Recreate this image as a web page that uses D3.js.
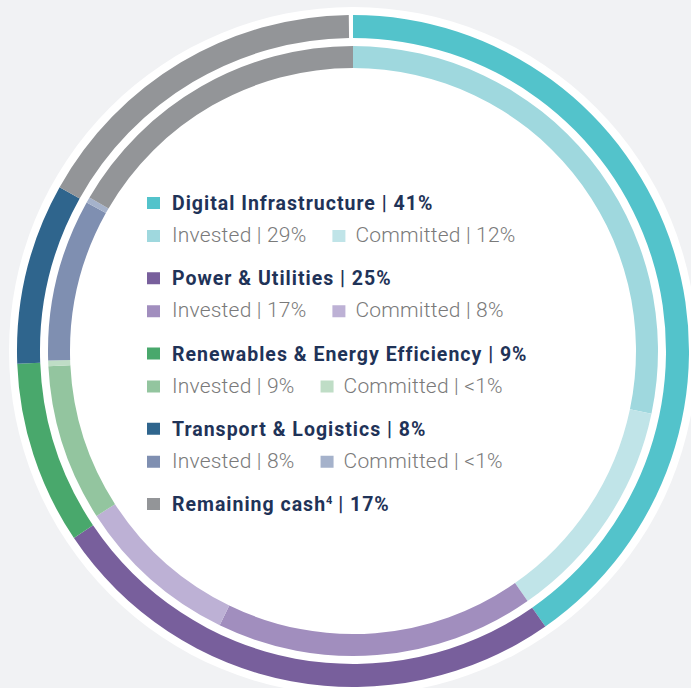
<!DOCTYPE html>
<html>
<head>
<meta charset="utf-8">
<script src="https://cdn.jsdelivr.net/npm/d3@7"></script>
<style>
  body { margin: 0; background: #f1f2f4; }
  svg { display: block; font-family: Roboto, "Noto Sans", sans-serif; }
</style>
</head>
<body>
<div id="Area"></div>
<script>
var width = 691, height = 688;
var cx = 353, cy = 351;

// outer ring: sectors (share of 100)
var sectors = ["Digital Infrastructure", "Power & Utilities", "Renewables & Energy Efficiency", "Transport & Logistics", "Remaining cash"];
var sectorValues = [40.3, 25.3, 8.8, 8.7, 16.7];
var sectorLabels = ["41%", "25%", "9%", "8%", "17%"];
var sectorColors = ["#53c3cb", "#785f9c", "#49a86c", "#2f658d", "#939598"];

// inner ring: invested / committed split
var parts = ["DI invested", "DI committed", "PU invested", "PU committed", "RE invested", "RE committed", "TL invested", "TL committed", "Cash"];
var partValues = [28.3, 12.0, 16.9, 8.7, 8.3, 0.3, 8.6, 0.3, 16.6];
var partColors = ["#9fd8de", "#c0e4e8", "#a18ebe", "#bdb1d5", "#93c59f", "#bfddc6", "#7f8fb1", "#a5b2cb", "#939598"];

// legend sub rows
var investedLabels = ["29%", "17%", "9%", "8%"];
var committedLabels = ["12%", "8%", "<1%", "<1%"];

var sVg = d3.select("#Area").append("svg")
  .attr("width", width)
  .attr("height", height);

sVg.append("rect").attr("width", width).attr("height", height).attr("fill", "#f1f2f4");

var g = sVg.append("g").attr("transform", "translate(" + cx + "," + cy + ")");

g.append("circle").attr("r", 344).attr("fill", "#ffffff");

var angle = d3.scaleLinear().domain([0, 100]).range([0, 2 * Math.PI]);

function cumulate(vals) {
  var out = [], acc = 0;
  vals.forEach(function (v, i) {
    out.push({ start: acc, end: acc + v, i: i });
    acc += v;
  });
  return out;
}

var outerArc = d3.arc().innerRadius(313).outerRadius(336)
  .startAngle(function (d) { return angle(d.start); })
  .endAngle(function (d) { return angle(d.end); });

var innerArc = d3.arc().innerRadius(283).outerRadius(305)
  .startAngle(function (d) { return angle(d.start); })
  .endAngle(function (d) { return angle(d.end); });

g.selectAll(".outer")
  .data(cumulate(sectorValues))
  .enter()
  .append("path")
  .attr("class", "outer")
  .attr("d", outerArc)
  .attr("fill", function (d) { return sectorColors[d.i]; });

g.selectAll(".inner")
  .data(cumulate(partValues))
  .enter()
  .append("path")
  .attr("class", "inner")
  .attr("d", innerArc)
  .attr("fill", function (d) { return partColors[d.i]; });

// legend
var lx = 147, textX = 172, top0 = 210, step = 75.25;
var leg = sVg.append("g");

sectors.forEach(function (name, i) {
  var y = top0 + i * step;
  leg.append("rect").attr("x", lx).attr("y", y - 13).attr("width", 13).attr("height", 12)
    .attr("fill", sectorColors[i]);
  var t = leg.append("text").attr("x", textX).attr("y", y)
    .attr("fill", "#1f3358").attr("font-size", 19.5).attr("font-weight", 700)
    .attr("letter-spacing", 1.0);
  t.append("tspan").text(name);
  if (i == 4) {
    t.append("tspan").attr("font-size", 11).attr("dy", -7).attr("letter-spacing", 0).text("4");
    t.append("tspan").attr("dy", 7).text(" | " + sectorLabels[i]);
  } else {
    t.append("tspan").text(" | " + sectorLabels[i]);
  }

  if (i < 4) {
    var y2 = y + 32;
    leg.append("rect").attr("x", lx).attr("y", y2 - 12).attr("width", 13).attr("height", 12)
      .attr("fill", partColors[i * 2]);
    var t1 = leg.append("text").attr("x", textX).attr("y", y2)
      .attr("fill", "#7a7a7a").attr("font-size", 21).attr("font-weight", 300)
      .attr("letter-spacing", 0.2)
      .text("Invested | " + investedLabels[i]);
    var x2 = textX + t1.node().getComputedTextLength() + 26;
    leg.append("rect").attr("x", x2).attr("y", y2 - 12).attr("width", 13).attr("height", 12)
      .attr("fill", partColors[i * 2 + 1]);
    leg.append("text").attr("x", x2 + 23).attr("y", y2)
      .attr("fill", "#7a7a7a").attr("font-size", 21).attr("font-weight", 300)
      .attr("letter-spacing", 0.2)
      .text("Committed | " + committedLabels[i]);
  }
});
</script>
</body>
</html>
